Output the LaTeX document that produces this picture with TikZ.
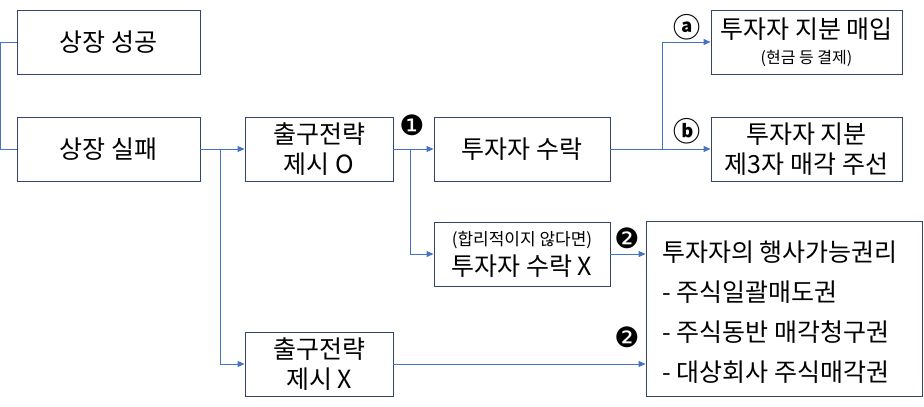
\documentclass[tikz,border=0pt]{standalone}
\usepackage{fontspec}
\setmainfont{Noto Sans CJK KR}
\newfontfamily\symfont{DejaVu Sans}
\usetikzlibrary{arrows.meta}
\definecolor{boxc}{RGB}{52,68,104}
\definecolor{linec}{RGB}{68,114,196}
\tikzset{
  box/.style={draw=boxc, line width=0.9pt, fill=white, align=center, inner sep=0pt,
    font=\fontsize{25}{30}\selectfont},
  conn/.style={draw=linec, line width=0.9pt},
  arr/.style={conn, -{Triangle[length=7pt,width=6pt]}},
  badge/.style={font=\symfont\fontsize{28}{28}\selectfont, inner sep=0pt},
  cbadge/.style={font=\bfseries\fontsize{27}{27}\selectfont, inner sep=0pt},
}
\begin{document}
\begin{tikzpicture}[x=1pt,y=-1pt]
\useasboundingbox[fill=white] (0,0) rectangle (924,407);
% boxes
\node[box, minimum width=183pt, minimum height=64pt] (s1) at (108.5,42) {상장 성공};
\node[box, minimum width=183pt, minimum height=64pt] (s2) at (108.5,149) {상장 실패};
\node[box, minimum width=148pt, minimum height=64pt] (e1) at (319,149) {출구전략\\제시 O};
\node[box, minimum width=176pt, minimum height=64pt] (a1) at (522,149) {투자자 수락};
\node[box, minimum width=191pt, minimum height=64pt] (b1) at (806.5,42)
  {투자자 지분 매입\\[-5pt]{\fontsize{16}{18}\selectfont (현금 등 결제)}};
\node[box, minimum width=191pt, minimum height=64pt] (b2) at (806.5,149) {투자자 지분\\제3자 매각 주선};
\node[box, minimum width=176pt, minimum height=64pt] (a2) at (522,254)
  {{\fontsize{17}{19}\selectfont (합리적이지 않다면)}\\[0pt]투자자 수락 X};
\node[box, minimum width=148pt, minimum height=64pt] (e2) at (319,364) {출구전략\\제시 X};
\node[box, minimum width=276pt, minimum height=175pt] (r) at (784,308.5) {};
\node[anchor=west, align=left, inner sep=0pt, font=\fontsize{25}{40}\selectfont] (rt) at (662,312)
  {투자자의 행사가능권리\\- 주식일괄매도권\\- 주식동반 매각청구권\\- 대상회사 주식매각권};
% junctions
\coordinate (j1) at (220,149);
\coordinate (j2) at (410,149);
\coordinate (j3) at (662,149);
% connectors
\draw[conn] (s1.west) -- ++(-16,0) |- (s2.west);
\draw[arr] (s2.east) -- (e1.west);
\draw[arr] (j1) |- (e2.west);
\draw[arr] (e1.east) -- (a1.west);
\draw[arr] (j2) |- (a2.west);
\draw[arr] (a1.east) -- (b2.west);
\draw[arr] (j3) |- (b1.west);
\draw[arr] (a2.east) -- (a2.east -| r.west);
\draw[arr] (e2.east) -- (e2.east -| r.west);
% markers
\node[badge] (m1) at (412,125) {❶};
\node[cbadge] (ma) at (687,27) {ⓐ};
\node[cbadge] (mb) at (687,131) {ⓑ};
\node[badge] (m2) at (627,238) {❷};
\node[badge] (m3) at (627,337) {❷};
\end{tikzpicture}
\end{document}
